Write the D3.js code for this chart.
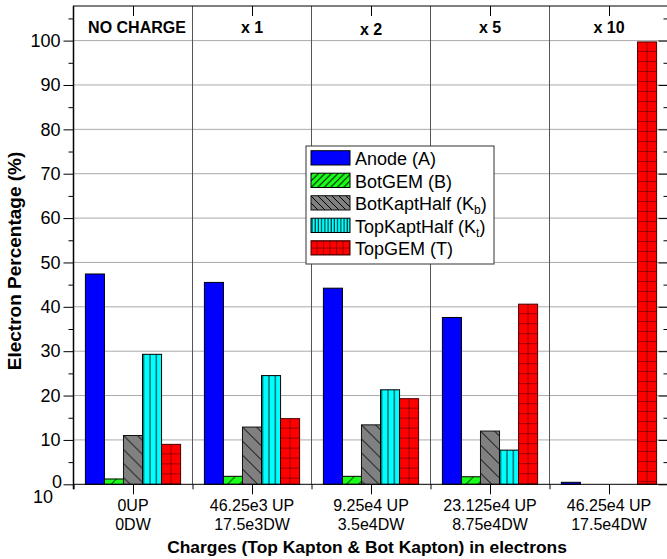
<!DOCTYPE html>
<html>
<head>
<meta charset="utf-8">
<title>Electron Percentage</title>
<script src="https://cdn.jsdelivr.net/npm/d3@7"></script>
<style>
  body { margin: 0; background: #fff; }
  svg { display: block; font-family: "Liberation Sans", Arial, sans-serif; }
</style>
</head>
<body>
<div id="chart"></div>
<script>
// group labels
var headerLabels = ["NO CHARGE", "x 1", "x 2", "x 5", "x 10"];
var upLabels = ["0UP", "46.25e3 UP", "9.25e4 UP", "23.125e4 UP", "46.25e4 UP"];
var dwLabels = ["0DW", "17.5e3DW", "3.5e4DW", "8.75e4DW", "17.5e4DW"];

// series (percent of electrons)
var seriesNames = ["Anode (A)", "BotGEM (B)", "BotKaptHalf (K", "TopKaptHalf (K", "TopGEM (T)"];
var seriesSubs = ["", "", "b", "t", ""];
var anode = [47.4, 45.5, 44.2, 37.6, 0.45];
var botGem = [1.2, 1.8, 1.8, 1.7, 0];
var botKapt = [11.0, 12.9, 13.4, 12.0, 0];
var topKapt = [29.3, 24.5, 21.3, 7.7, 0];
var topGem = [9.0, 14.8, 19.3, 40.6, 99.7];

var yMajor = [0, 10, 20, 30, 40, 50, 60, 70, 80, 90, 100];
var yMinor = [5, 15, 25, 35, 45, 55, 65, 75, 85, 95, 105];

var series = [anode, botGem, botKapt, topKapt, topGem];
var kinds = ["solid", "slash", "back", "vert", "grid"];
var fills = ["#0000ff", "#1aff1a", "#808080", "#00ffff", "#ff0000"];
var strokes = ["#000", "#000", "#111", "#000", "#4a0000"];

var W = 667, H = 559;
// note: "top" is taken by window.top, so plot edges get their own names
var pL = 73.5, pR = 668.5, pT = 6, pB = 484.3;

var svg = d3.select("#chart").append("svg")
  .attr("width", W).attr("height", H);

var x = d3.scaleLinear().domain([0.5, 5.5]).range([pL, pR]);
var y = d3.scaleLinear().domain([0, 107.8]).range([pB, pT]);
var inner = d3.scaleBand().domain(d3.range(5)).range([-0.4, 0.4]);

// patterns
var defs = svg.append("defs");
function makePattern(id, kind, s, fill) {
  var w = s, h = s;
  if (kind == "vert") { h = 10; }
  var p = defs.append("pattern").attr("id", id)
    .attr("patternUnits", "userSpaceOnUse")
    .attr("width", w).attr("height", h);
  p.append("rect").attr("width", w).attr("height", h).attr("fill", fill);
  var d, col = "#000", sw = 1;
  if (kind == "slash") d = "M0," + s + "L" + s + ",0M-2,2L2,-2M" + (s - 2) + "," + (s + 2) + "L" + (s + 2) + "," + (s - 2);
  if (kind == "back") d = "M0,0L" + s + "," + s + "M-2," + (s - 2) + "L2," + (s + 2) + "M" + (s - 2) + ",-2L" + (s + 2) + ",2";
  if (kind == "vert") { d = "M1,0V" + h; sw = 0.9; }
  if (kind == "grid") { d = "M0," + s + "H" + s + "M" + s + ",0V" + s; col = "#3a0000"; }
  p.append("path").attr("d", d).attr("stroke", col).attr("stroke-width", sw).attr("fill", "none");
}
var barSizes = [0, 12, 14, 6.4, 10];
var legSizes = [0, 6.5, 7, 3.2, 6.5];
kinds.forEach(function(k, i) {
  if (k == "solid") return;
  makePattern("bar" + i, k, barSizes[i], fills[i]);
  makePattern("leg" + i, k, legSizes[i], fills[i]);
});

// grid lines
svg.append("g").selectAll("line")
  .data(yMajor.filter(function(d) { return d > 0; }))
  .enter().append("line")
  .attr("x1", pL).attr("x2", pR)
  .attr("y1", function(d) { return y(d); })
  .attr("y2", function(d) { return y(d); })
  .attr("stroke", "#555").attr("stroke-width", 1)
  .attr("stroke-dasharray", "1,1");

// group dividers
svg.append("g").selectAll("line")
  .data([1.5, 2.5, 3.5, 4.5])
  .enter().append("line")
  .attr("x1", function(d) { return x(d); })
  .attr("x2", function(d) { return x(d); })
  .attr("y1", pT).attr("y2", pB)
  .attr("stroke", "#555").attr("stroke-width", 1);

// bars
var bw = x(inner.bandwidth()) - x(0);
series.forEach(function(vals, k) {
  svg.append("g").selectAll("g")
    .data(vals.map(function(v, i) { return { v: v, i: i }; }).filter(function(d) { return d.v > 0; }))
    .enter().append("g")
    .attr("transform", function(d) {
      return "translate(" + x(d.i + 1 + inner(k)) + "," + y(d.v) + ")";
    })
    .append("rect")
    .attr("width", bw)
    .attr("height", function(d) { return pB - y(d.v); })
    .attr("fill", kinds[k] == "solid" ? fills[k] : "url(#bar" + k + ")")
    .attr("stroke", strokes[k]).attr("stroke-width", 1);
});

// axes
function styleAxis(g) {
  g.attr("font-family", null).attr("font-size", null);
  g.selectAll("line").attr("stroke", "#000");
  g.select(".domain").remove();
}
svg.append("g").attr("transform", "translate(" + pL + ",0)")
  .call(d3.axisLeft(y).tickValues(yMajor).tickSize(10).tickPadding(3)
    .tickFormat(function(d) { return d === 0 ? "" : d; }))
  .call(styleAxis)
  .selectAll("text").attr("font-size", 18).attr("fill", "#000");
svg.append("g").attr("transform", "translate(" + pL + ",0)")
  .call(d3.axisLeft(y).tickValues(yMinor).tickSize(5).tickFormat(""))
  .call(styleAxis);
svg.append("g").attr("transform", "translate(" + pR + ",0)")
  .call(d3.axisLeft(y).tickValues(yMajor).tickSize(10).tickFormat(""))
  .call(styleAxis);
svg.append("g").attr("transform", "translate(" + pR + ",0)")
  .call(d3.axisLeft(y).tickValues(yMinor).tickSize(5).tickFormat(""))
  .call(styleAxis);
svg.append("g").attr("transform", "translate(0," + pB + ")")
  .call(d3.axisBottom(x).tickValues([1, 2, 3, 4, 5]).tickSize(10).tickFormat(""))
  .call(styleAxis);
svg.append("g").attr("transform", "translate(0," + pB + ")")
  .call(d3.axisBottom(x).tickValues([0.5, 1.5, 2.5, 3.5, 4.5, 5.5]).tickSize(5).tickFormat(""))
  .call(styleAxis);
svg.append("g").attr("transform", "translate(0," + pT + ")")
  .call(d3.axisBottom(x).tickValues([1, 2, 3, 4, 5]).tickSize(10).tickFormat(""))
  .call(styleAxis);

// frame
svg.append("rect")
  .attr("x", pL).attr("y", pT)
  .attr("width", pR - pL).attr("height", pB - pT)
  .attr("fill", "none").attr("stroke", "#000").attr("stroke-width", 1);
svg.append("line")
  .attr("x1", pL).attr("x2", pL).attr("y1", pT).attr("y2", pB + 5)
  .attr("stroke", "#000").attr("stroke-width", 1.5);

// odd "10^0" zero label
svg.append("text").attr("x", 62).attr("y", 487.5).attr("text-anchor", "end")
  .attr("font-size", 18).text("0");
svg.append("text").attr("x", 53).attr("y", 503).attr("text-anchor", "end")
  .attr("font-size", 18).text("10");

// group headers
svg.append("g").selectAll("text")
  .data(headerLabels).enter().append("text")
  .attr("x", function(d, i) { return x(i + 1) + (i == 0 ? 4 : 0); })
  .attr("y", function(d, i) { return i == 2 ? 35 : 33; })
  .attr("text-anchor", "middle")
  .attr("font-size", 16).attr("font-weight", "bold")
  .text(function(d) { return d; });

// x tick labels
var xl = svg.append("g").selectAll("text")
  .data(upLabels).enter().append("text")
  .attr("text-anchor", "middle").attr("font-size", 16);
xl.append("tspan")
  .attr("x", function(d, i) { return x(i + 1); }).attr("y", 511)
  .text(function(d) { return d; });
xl.append("tspan")
  .attr("x", function(d, i) { return x(i + 1); }).attr("y", 530)
  .text(function(d, i) { return dwLabels[i]; });

// axis titles
svg.append("text")
  .attr("x", (pL + pR) / 2 - 4).attr("y", 553)
  .attr("text-anchor", "middle").attr("font-size", 17.4).attr("font-weight", "bold")
  .text("Charges (Top Kapton & Bot Kapton) in electrons");
svg.append("text")
  .attr("transform", "translate(21,261) rotate(-90)")
  .attr("text-anchor", "middle").attr("font-size", 19).attr("font-weight", "bold")
  .text("Electron Percentage (%)");

// legend
var leg = svg.append("g");
leg.append("rect")
  .attr("x", 306).attr("y", 146).attr("width", 188).attr("height", 118)
  .attr("fill", "#fff").attr("stroke", "#333").attr("stroke-width", 1);
var rows = leg.selectAll("g.row").data(seriesNames).enter().append("g")
  .attr("class", "row")
  .attr("transform", function(d, i) { return "translate(311," + (165 + i * 22.5) + ")"; });
rows.append("rect")
  .attr("x", 0).attr("y", -14.3).attr("width", 39).attr("height", 14.3)
  .attr("fill", function(d, i) { return kinds[i] == "solid" ? fills[i] : "url(#leg" + i + ")"; })
  .attr("stroke", function(d, i) { return strokes[i]; }).attr("stroke-width", 1);
var lt = rows.append("text").attr("x", 44).attr("y", 0).attr("font-size", 18);
lt.append("tspan").text(function(d) { return d; });
lt.filter(function(d, i) { return seriesSubs[i] != ""; })
  .each(function(d) {
    var t = d3.select(this);
    var k = seriesNames.indexOf(d);
    t.append("tspan").attr("font-size", 12).attr("dy", 4).text(seriesSubs[k]);
    t.append("tspan").attr("dy", -4).text(")");
  });
</script>
</body>
</html>
